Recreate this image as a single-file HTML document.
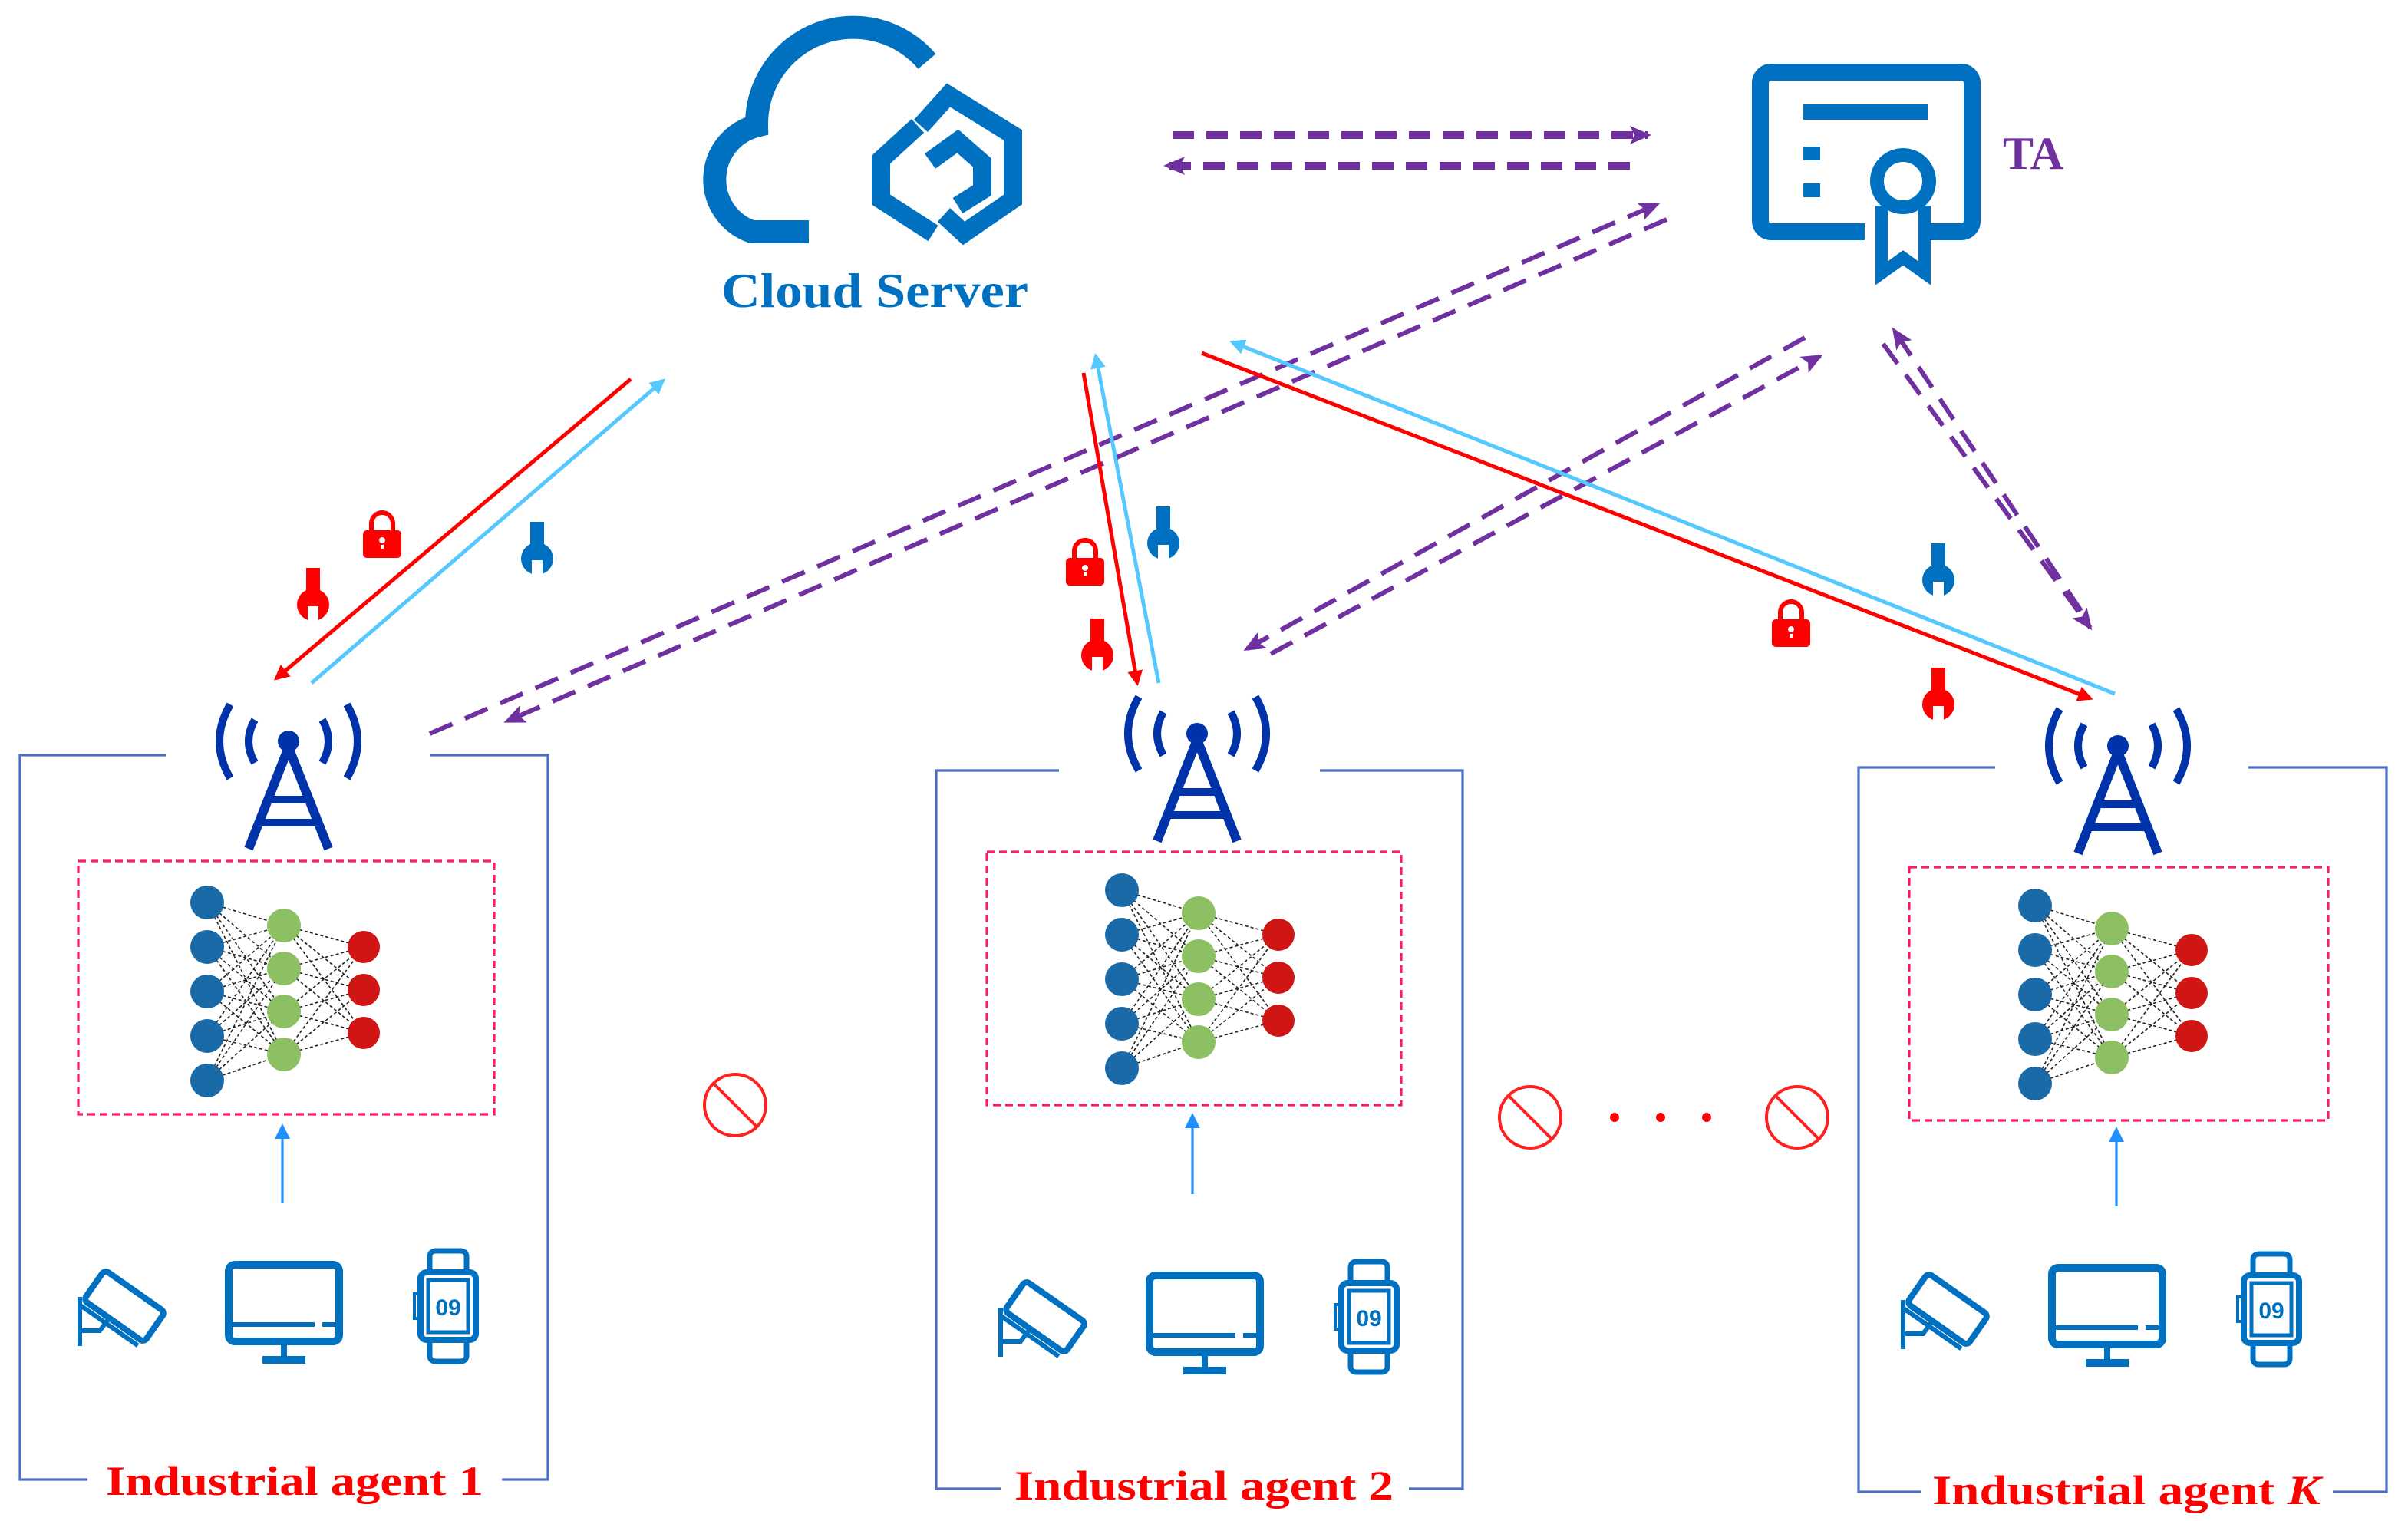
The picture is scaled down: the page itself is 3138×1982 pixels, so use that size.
<!DOCTYPE html>
<html><head><meta charset="utf-8"><style>
html,body{margin:0;padding:0;background:#fff;width:3138px;height:1982px;overflow:hidden}
svg{display:block}
text{font-family:"Liberation Serif",serif;font-weight:bold}
</style></head><body>
<svg width="3138" height="1982" viewBox="0 0 1569 991" xmlns="http://www.w3.org/2000/svg">
<defs>
<marker id="ar" markerWidth="10" markerHeight="10" refX="8" refY="5" orient="auto" markerUnits="userSpaceOnUse"><path d="M0,0 L10,5 L0,10 Z" fill="#ff0000"/></marker>
<marker id="ab" markerWidth="10" markerHeight="10" refX="8" refY="5" orient="auto" markerUnits="userSpaceOnUse"><path d="M0,0 L10,5 L0,10 Z" fill="#55c8ff"/></marker>
<marker id="ap" markerWidth="14" markerHeight="12" refX="12" refY="6" orient="auto" markerUnits="userSpaceOnUse"><path d="M0,0 L14,6 L0,12 L3,6 Z" fill="#7030a0"/></marker>
<marker id="au" markerWidth="10" markerHeight="10" refX="8" refY="5" orient="auto" markerUnits="userSpaceOnUse"><path d="M0,0 L10,5 L0,10 Z" fill="#2090ff"/></marker>
<g id="tower" fill="none" stroke="#0033aa">
 <circle cx="0" cy="0" r="7" fill="#0033aa" stroke="none"/>
 <path d="M0,4 L-26,70 M0,4 L26,70" stroke-width="6"/>
 <path d="M-13,38 H13 M-19,53 H19" stroke-width="5"/>
 <path d="M-22,-14 Q-30,0 -22,14 M22,-14 Q30,0 22,14" stroke-width="5"/>
 <path d="M-38,-24 Q-52,0 -38,24 M38,-24 Q52,0 38,24" stroke-width="5"/>
</g>
<g id="nn">
 <g stroke="#222" stroke-width="0.8" stroke-dasharray="2,1.5">
  <path d="M0,0L50,15M0,0L50,43M0,0L50,71M0,0L50,99M0,29L50,15M0,29L50,43M0,29L50,71M0,29L50,99M0,58L50,15M0,58L50,43M0,58L50,71M0,58L50,99M0,87L50,15M0,87L50,43M0,87L50,71M0,87L50,99M0,116L50,15M0,116L50,43M0,116L50,71M0,116L50,99"/>
  <path d="M50,15L102,29M50,15L102,57M50,15L102,85M50,43L102,29M50,43L102,57M50,43L102,85M50,71L102,29M50,71L102,57M50,71L102,85M50,99L102,29M50,99L102,57M50,99L102,85"/>
 </g>
 <g fill="#1a6aa8"><circle cx="0" cy="0" r="11"/><circle cx="0" cy="29" r="11"/><circle cx="0" cy="58" r="11"/><circle cx="0" cy="87" r="11"/><circle cx="0" cy="116" r="11"/></g>
 <g fill="#8cc063"><circle cx="50" cy="15" r="11"/><circle cx="50" cy="43" r="11"/><circle cx="50" cy="71" r="11"/><circle cx="50" cy="99" r="11"/></g>
 <g fill="#d01515"><circle cx="102" cy="29" r="10.5"/><circle cx="102" cy="57" r="10.5"/><circle cx="102" cy="85" r="10.5"/></g>
</g>
<g id="dev" fill="none" stroke="#0070c0">
 <rect x="-36" y="-27" width="72" height="50" rx="4" stroke-width="5"/>
 <path d="M-34,12 H20 M25,12 H34" stroke-width="3"/>
 <path d="M0,23 V33" stroke-width="4"/><path d="M-14,35 H14" stroke-width="5"/>
 <g transform="translate(-104,0) rotate(35)">
  <rect x="-24" y="-12" width="48" height="24" rx="3" stroke-width="4"/>
  <path d="M-24,16 H22" stroke-width="3"/>
 </g>
 <path d="M-133,-6 V26 M-133,16 H-120 L-114,8" stroke-width="3"/>
 <g transform="translate(107,0)">
  <rect x="-18" y="-22" width="36" height="44" rx="4" stroke-width="4"/>
  <rect x="-13" y="-17" width="26" height="34" stroke-width="2.5"/>
  <path d="M-12,-22 V-32 Q-12,-36 -8,-36 H8 Q12,-36 12,-32 V-22 M-12,22 V32 Q-12,36 -8,36 H8 Q12,36 12,32 V22" stroke-width="3.5"/>
  <rect x="-22" y="-8" width="4" height="16" stroke-width="2"/>
  <text x="0" y="6" text-anchor="middle" font-size="15" fill="#0070c0" stroke="none" style="font-family:'Liberation Sans',sans-serif">09</text>
 </g>
</g>
<g id="wr"><rect x="-4.5" y="-20" width="9" height="16"/><circle cx="0" cy="4" r="10.5"/><rect x="-3.5" y="5" width="7" height="12" fill="#fff"/></g>
<g id="lock"><path d="M-7,-4 V-9 A7,7 0 0,1 7,-9 V-4" fill="none" stroke-width="3"/><rect x="-12" y="-4" width="24" height="17" rx="2"/><rect x="-1.5" y="1" width="3" height="7" fill="#fff"/><circle cx="0" cy="2" r="2.5" fill="#fff"/></g>
<g id="ban" fill="none" stroke="#ff2020" stroke-width="2"><circle r="20"/><path d="M-14,-14 L14,14"/></g>
</defs>

<!-- Cloud -->
<g fill="none" stroke="#0070c0" stroke-width="15">
 <path d="M527,151 H490 A36,36 0 0 1 493,82 A63,63 0 0 1 604,40"/>
</g>
<g fill="none" stroke="#0070c0" stroke-width="12">
 <path d="M600,82 L618,62 L660,88 L660,130 L628,152 L615,140"/>
 <path d="M598,82 L574,104 L574,130 L608,152"/>
 <path d="M606,105 L624,92 L640,106 L640,124 L624,134"/>
</g>
<text x="470" y="200" font-size="32" fill="#0070c0" textLength="200" lengthAdjust="spacingAndGlyphs">Cloud  Server</text>

<!-- TA -->
<g fill="none" stroke="#0070c0">
 <rect x="1147" y="47" width="138" height="104" rx="7" stroke-width="11"/>
 <path d="M1175,73 H1256" stroke-width="10"/>
 <path d="M1175,100 H1186 M1175,124 H1186" stroke-width="9"/>
</g>
<rect x="1215" y="135" width="40" height="22" fill="#fff"/>
<circle cx="1240" cy="118" r="17" fill="#fff" stroke="#0070c0" stroke-width="9"/>
<path d="M1226,134 V178 L1240,168 L1254,178 V134" fill="none" stroke="#0070c0" stroke-width="8"/>
<text x="1305" y="110" font-size="30" fill="#7030a0">TA</text>

<!-- cloud - TA arrows -->
<g stroke="#7030a0" stroke-width="5" fill="none" stroke-dasharray="14,8">
 <path d="M764,88 H1074" marker-end="url(#ap)"/>
 <path d="M1062,108 H760" marker-end="url(#ap)"/>
</g>
<g stroke="#7030a0" stroke-width="3" fill="none" stroke-dasharray="16,9">
 <path d="M1086,143 L330,470" marker-end="url(#ap)"/>
 <path d="M280,478 L1080,133" marker-end="url(#ap)"/>
 <path d="M1176,220 L812,423" marker-end="url(#ap)"/>
 <path d="M828,426 L1186,232" marker-end="url(#ap)"/>
 <path d="M1227,224 L1362,409" marker-end="url(#ap)"/>
 <path d="M1356,398 L1234,215" marker-end="url(#ap)"/>
</g>
<g fill="none" stroke-width="2.5">
 <path d="M411,247 L180,442" stroke="#ff0000" marker-end="url(#ar)"/>
 <path d="M203,445 L432,248" stroke="#55c8ff" marker-end="url(#ab)"/>
 <path d="M706,243 L741,445" stroke="#ff0000" marker-end="url(#ar)"/>
 <path d="M755,445 L714,232" stroke="#55c8ff" marker-end="url(#ab)"/>
 <path d="M783,230 L1362,455" stroke="#ff0000" marker-end="url(#ar)"/>
 <path d="M1378,452 L803,223" stroke="#55c8ff" marker-end="url(#ab)"/>
</g>
<g fill="#ff0000" stroke="#ff0000"><use href="#lock" x="249" y="350"/><use href="#lock" x="707" y="368"/><use href="#lock" x="1167" y="408"/></g>
<g fill="#ff0000"><use href="#wr" x="204" y="390"/><use href="#wr" x="715" y="423"/><use href="#wr" x="1263" y="455"/></g>
<g fill="#0070c0"><use href="#wr" x="350" y="360"/><use href="#wr" x="758" y="350"/><use href="#wr" x="1263" y="374"/></g>

<g fill="none" stroke="#4a6fbf" stroke-width="1.6">
 <path d="M108,492 H13 V964 H57 M327,964 H357 V492 H280"/>
 <path d="M690,502 H610 V970 H652 M918,970 H953 V502 H860"/>
 <path d="M1300,500 H1211 V972 H1252 M1520,972 H1555 V500 H1465"/>
</g>
<g fill="none" stroke="#ff1a6a" stroke-width="1.6" stroke-dasharray="5,3">
 <rect x="51" y="561" width="271" height="165"/>
 <rect x="643" y="555" width="270" height="165"/>
 <rect x="1244" y="565" width="273" height="165"/>
</g>
<use href="#tower" x="188" y="483"/>
<use href="#tower" x="780" y="478"/>
<use href="#tower" x="1380" y="486"/>
<use href="#nn" x="135" y="588"/>
<use href="#nn" x="731" y="580"/>
<use href="#nn" x="1326" y="590"/>
<g stroke="#2090ff" stroke-width="1.6" fill="none">
 <path d="M184,784 V734" marker-end="url(#au)"/>
 <path d="M777,778 V727" marker-end="url(#au)"/>
 <path d="M1379,786 V736" marker-end="url(#au)"/>
</g>
<use href="#dev" x="185" y="851"/>
<use href="#dev" x="785" y="858"/>
<use href="#dev" x="1373" y="853"/>

<use href="#ban" x="479" y="720"/>
<use href="#ban" x="997" y="728"/>
<use href="#ban" x="1171" y="728"/>
<g fill="#ff0000"><circle cx="1052" cy="728" r="3"/><circle cx="1082" cy="728" r="3"/><circle cx="1112" cy="728" r="3"/></g>

<text x="69" y="974" font-size="27" fill="#ff0000" textLength="246" lengthAdjust="spacingAndGlyphs">Industrial  agent 1</text>
<text x="661" y="977" font-size="27" fill="#ff0000" textLength="247" lengthAdjust="spacingAndGlyphs">Industrial  agent 2</text>
<text x="1259" y="980" font-size="27" fill="#ff0000" textLength="253" lengthAdjust="spacingAndGlyphs">Industrial  agent <tspan font-style="italic">K</tspan></text>
</svg>
</body></html>
